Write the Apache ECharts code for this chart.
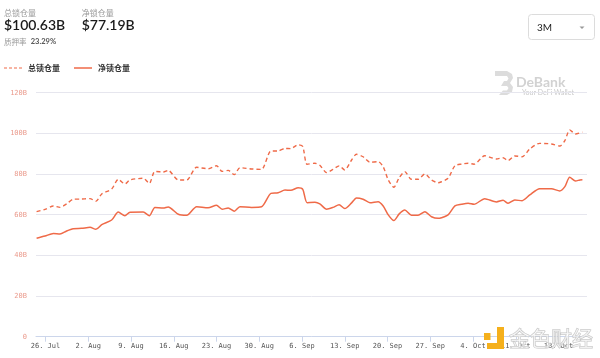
<!DOCTYPE html>
<html><head><meta charset="utf-8">
<script src="https://cdn.jsdelivr.net/npm/echarts@6/dist/echarts.min.js"></script>
<style>html,body{margin:0;padding:0;background:#fff}#c{width:600px;height:358px}</style>
</head><body><div id="c"></div>
<script>
const dates = ['2021-07-24 13:00','2021-07-25 22:00','2021-07-27 07:00','2021-07-28 09:00','2021-07-29 11:00','2021-07-30 13:00','2021-07-31 22:00','2021-08-02 07:00','2021-08-03 06:00','2021-08-04 05:00','2021-08-05 20:00','2021-08-06 22:00','2021-08-08 00:00','2021-08-08 20:00','2021-08-11 00:00','2021-08-12 00:00','2021-08-12 22:00','2021-08-14 07:00','2021-08-15 02:00','2021-08-16 18:00','2021-08-18 03:00','2021-08-19 18:00','2021-08-21 15:00','2021-08-23 00:00','2021-08-23 22:00','2021-08-24 22:00','2021-08-25 22:00','2021-08-26 20:00','2021-08-28 18:00','2021-08-30 09:00','2021-08-31 22:00','2021-09-02 02:00','2021-09-03 05:00','2021-09-04 04:00','2021-09-05 09:00','2021-09-06 03:00','2021-09-06 20:00','2021-09-08 03:00','2021-09-08 22:00','2021-09-10 01:00','2021-09-11 02:00','2021-09-12 02:00','2021-09-13 00:00','2021-09-14 03:00','2021-09-14 22:00','2021-09-16 00:00','2021-09-17 03:00','2021-09-18 11:00','2021-09-19 07:00','2021-09-20 03:00','2021-09-21 01:00','2021-09-21 22:00','2021-09-22 20:00','2021-09-23 22:00','2021-09-25 00:00','2021-09-26 03:00','2021-09-27 05:00','2021-09-28 07:00','2021-09-28 20:00','2021-09-29 22:00','2021-10-01 01:00','2021-10-02 03:00','2021-10-03 05:00','2021-10-04 04:00','2021-10-05 22:00','2021-10-07 20:00','2021-10-08 22:00','2021-10-09 18:00','2021-10-10 20:00','2021-10-12 01:00','2021-10-13 07:00','2021-10-14 22:00','2021-10-16 20:00','2021-10-18 05:00','2021-10-19 01:00','2021-10-19 20:00','2021-10-20 19:00','2021-10-21 12:00','2021-10-21 22:00'];
const totalTVL = [61.5,62.6,64.3,63.6,65.3,67.6,67.7,67.9,66.6,70.2,72.6,77.4,75.1,77.1,77.9,75.4,81.3,81.0,81.8,77.1,77.1,83.3,82.6,84.1,81.3,81.8,79.7,83.1,82.5,82.3,91.3,91.3,92.6,92.5,94.4,93.5,84.8,85.3,84.3,80.7,82.3,84.0,82.0,86.9,89.7,88.5,85.8,86.1,83.6,77.1,73.5,78.2,81.2,77.4,77.4,80.0,77.1,75.7,76.2,77.9,84.1,84.9,85.3,84.8,89.0,87.4,88.0,86.6,88.9,88.5,92.3,95.1,94.8,93.8,96.4,101.7,99.7,100.2,100.63];
const netTVL = [48.4,49.5,50.8,50.5,52.0,53.1,53.3,53.8,52.8,55.1,57.4,61.3,59.5,61.2,61.3,59.5,63.6,63.3,63.8,60.2,59.7,63.9,63.4,64.6,62.7,63.3,61.7,63.9,63.6,63.9,70.5,70.8,72.1,72.0,73.3,72.5,65.9,66.1,65.3,62.7,63.6,64.9,63.0,65.8,68.2,67.6,65.9,66.4,64.3,59.9,57.1,60.4,62.3,59.7,59.7,61.5,59.0,58.2,58.5,59.9,64.3,65.1,65.6,65.1,67.9,66.3,67.1,65.6,67.2,66.9,69.7,72.8,72.8,71.7,73.8,78.4,76.6,77.1,77.19];
const tickDates = ['2021-07-26 00:00','2021-08-02 00:00','2021-08-09 00:00','2021-08-16 00:00','2021-08-23 00:00','2021-08-30 00:00','2021-09-06 00:00','2021-09-13 00:00','2021-09-20 00:00','2021-09-27 00:00','2021-10-04 00:00','2021-10-11 00:00','2021-10-18 00:00'];
const tickLabels = ['26. Jul','2. Aug','9. Aug','16. Aug','23. Aug','30. Aug','6. Sep','13. Sep','20. Sep','27. Sep','4. Oct','11. Oct','18. Oct'];
const xRange = ['2021-07-24 10:40','2021-10-22 16:00'];
const yRange = [0, 120, 20];
const seriesNames = ['总锁仓量','净锁仓量'];

const ts = s => new Date(s.replace(' ', 'T')).getTime();
const tickTs = tickDates.map(ts);
const lineColor = '#ef6a48';
const mono = '"DejaVu Sans Mono", "Liberation Mono", monospace';
const cjk = '"Noto Sans CJK SC", "Noto Sans", sans-serif';

const chart = echarts.init(document.getElementById('c'), null, {renderer: 'canvas'});
chart.setOption({
  animation: false,
  backgroundColor: '#fff',
  grid: {left: 36, right: 13, top: 92.7, bottom: 21.3, containLabel: false},
  legend: {
    left: 4, top: 64, padding: 0, itemWidth: 18, itemHeight: 1.5, itemGap: 14,
    textStyle: {fontSize: 8, fontWeight: 'bold', color: '#333', fontFamily: cjk, padding: [0, 0, 0, 1]},
    data: [
      {name: seriesNames[0], icon: 'path://M0,0h3v1h-3z M5,0h3v1h-3z M10,0h3v1h-3z M15,0h3v1h-3z', itemStyle: {color: lineColor}},
      {name: seriesNames[1], icon: 'rect', itemStyle: {color: lineColor}}
    ]
  },
  xAxis: {
    type: 'value', min: ts(xRange[0]), max: ts(xRange[1]), scale: true,
    axisLine: {show: true, lineStyle: {color: '#ccd6eb', width: 1}},
    axisTick: {show: true, length: 5, lineStyle: {color: '#ccd6eb'}, customValues: tickTs},
    axisLabel: {
      customValues: tickTs, fontSize: 7, fontFamily: mono, color: '#555', margin: 6,
      hideOverlap: false, showMinLabel: true, showMaxLabel: true,
      formatter: v => { const i = tickTs.indexOf(v); return i >= 0 ? tickLabels[i] : ''; }
    },
    splitLine: {show: false}
  },
  yAxis: {
    type: 'value', min: yRange[0], max: yRange[1], interval: yRange[2],
    axisLine: {show: false}, axisTick: {show: false},
    axisLabel: {fontSize: 7, fontFamily: mono, color: '#ea9a8c', margin: 9,
      formatter: v => v === 0 ? '0' : v + 'B'},
    splitLine: {lineStyle: {color: '#e6e6ee', width: 1}}
  },
  series: [
    {name: seriesNames[0], type: 'line', data: dates.map((d, i) => [ts(d), totalTVL[i]]),
     showSymbol: false, symbol: 'none', smooth: 0.25, color: lineColor,
     lineStyle: {color: lineColor, width: 1.4, type: [4, 3]}},
    {name: seriesNames[1], type: 'line', data: dates.map((d, i) => [ts(d), netTVL[i]]),
     showSymbol: false, symbol: 'none', smooth: 0.25, color: lineColor,
     lineStyle: {color: lineColor, width: 1.5}}
  ],
  graphic: [
    {type: 'text', x: 4, y: 13, style: {text: '总锁仓量', fontSize: 8, fill: '#999', fontFamily: cjk, verticalAlign: 'middle'}},
    {type: 'text', x: 4, y: 25.8, style: {text: '$100.63B', fontSize: 14, fontWeight: 600, fill: '#1a1a1a', fontFamily: 'Lato, sans-serif', verticalAlign: 'middle'}},
    {type: 'text', x: 81.7, y: 13, style: {text: '净锁仓量', fontSize: 8, fill: '#999', fontFamily: cjk, verticalAlign: 'middle'}},
    {type: 'text', x: 81.7, y: 25.8, style: {text: '$77.19B', fontSize: 14, fontWeight: 600, fill: '#1a1a1a', fontFamily: 'Lato, sans-serif', verticalAlign: 'middle'}},
    {type: 'text', x: 4, y: 42, style: {text: '质押率', fontSize: 7.5, fill: '#999', fontFamily: cjk, verticalAlign: 'middle'}},
    {type: 'text', x: 30.7, y: 42, style: {text: '23.29%', fontSize: 7.5, fontWeight: 'bold', fill: '#555', fontFamily: 'Lato, sans-serif', verticalAlign: 'middle'}},
    {type: 'rect', shape: {x: 528.5, y: 14.5, width: 66, height: 25, r: 3}, style: {fill: '#fff', stroke: '#dcdcdc', lineWidth: 1}},
    {type: 'text', x: 537, y: 27.5, style: {text: '3M', fontSize: 10, fill: '#222', fontFamily: 'Lato, sans-serif', verticalAlign: 'middle'}},
    {type: 'polygon', shape: {points: [[579.5, 26.5], [584.5, 26.5], [582, 29]]}, style: {fill: '#999'}},
    {type: 'polygon', shape: {points: [[495,71],[507,71],[512,74],[513,78],[510,83],[513,87],[512,92],[507,95],[499,95],[503,90.5],[507,90.5],[508.5,88],[507,86],[501,86],[504,81],[507,81],[508.5,78.5],[507,76],[495,76]]}, style: {fill: '#dcdcdc'}},
    {type: 'text', x: 516, y: 82, style: {text: 'DeBank', fontSize: 14, fontWeight: 'bold', fill: '#d2d2d2', fontFamily: 'Lato, sans-serif', verticalAlign: 'middle'}},
    {type: 'text', x: 522, y: 92.5, style: {text: 'Your DeFi Wallet', fontSize: 7, fill: '#c8c8c8', fontFamily: 'Lato, sans-serif', verticalAlign: 'middle'}},
    {type: 'rect', z: 100, shape: {x: 484, y: 333, width: 6.5, height: 7}, style: {fill: '#f5b01c'}},
    {type: 'rect', z: 100, shape: {x: 497, y: 327, width: 7, height: 22}, style: {fill: '#f5b01c'}},
    {type: 'rect', z: 100, shape: {x: 487, y: 343, width: 17, height: 6}, style: {fill: '#f5b01c'}},
    {type: 'text', z: 100, x: 509, y: 338, style: {text: '金色财经', fontSize: 21, fill: 'rgba(255,255,255,0.55)', stroke: '#c4c4c4', lineWidth: 1, fontFamily: cjk, verticalAlign: 'middle'}}
  ]
});
</script>
</body></html>
